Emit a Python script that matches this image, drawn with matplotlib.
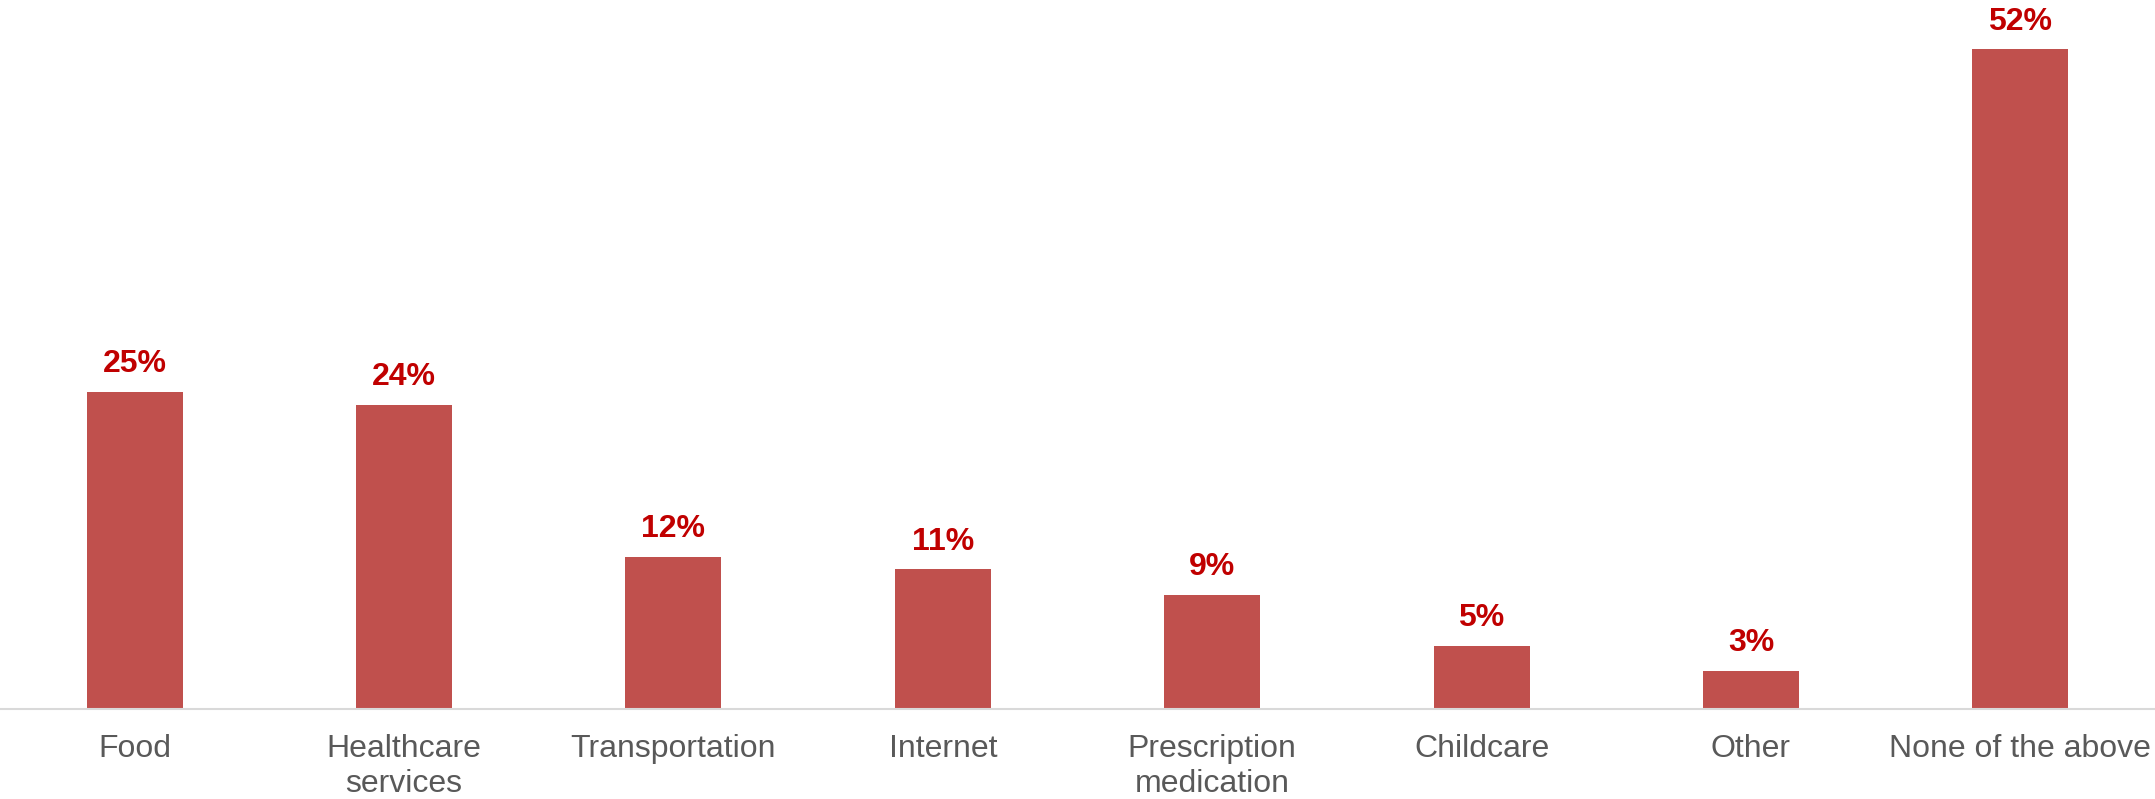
import matplotlib
matplotlib.use("Agg")
import matplotlib.pyplot as plt

categories = ["Food", "Healthcare\nservices", "Transportation", "Internet",
              "Prescription\nmedication", "Childcare", "Other", "None of the above"]
values = [25, 24, 12, 11, 9, 5, 3, 52]
labels = [f"{v}%" for v in values]

plt.rcParams['font.family'] = ['Liberation Sans', 'DejaVu Sans']

fig = plt.figure(figsize=(21.55, 7.99), dpi=100)
ax = fig.add_axes([0, 90/799, 1, 709/799])
x = range(len(categories))
bars = ax.bar(x, values, width=0.356, color="#C0504D")
ax.set_xlim(-0.5, len(categories) - 0.5)
ax.set_ylim(0, 55.9)
for b, lab in zip(bars, labels):
    ax.annotate(lab, (b.get_x() + b.get_width()/2, b.get_height()),
                xytext=(0, 9), textcoords="offset points",
                ha="center", va="bottom", fontsize=23, fontweight="bold",
                color="#C00000")
ax.set_xticks(list(x))
ax.set_xticklabels(categories, fontsize=23, color="#595959", linespacing=1.22)
ax.tick_params(axis="x", length=0, pad=18)
ax.set_yticks([])
for s in ["top", "right", "left"]:
    ax.spines[s].set_visible(False)
ax.spines["bottom"].set_color("#D9D9D9")
ax.spines["bottom"].set_linewidth(1.5)
fig.savefig("out.png", dpi=100)
